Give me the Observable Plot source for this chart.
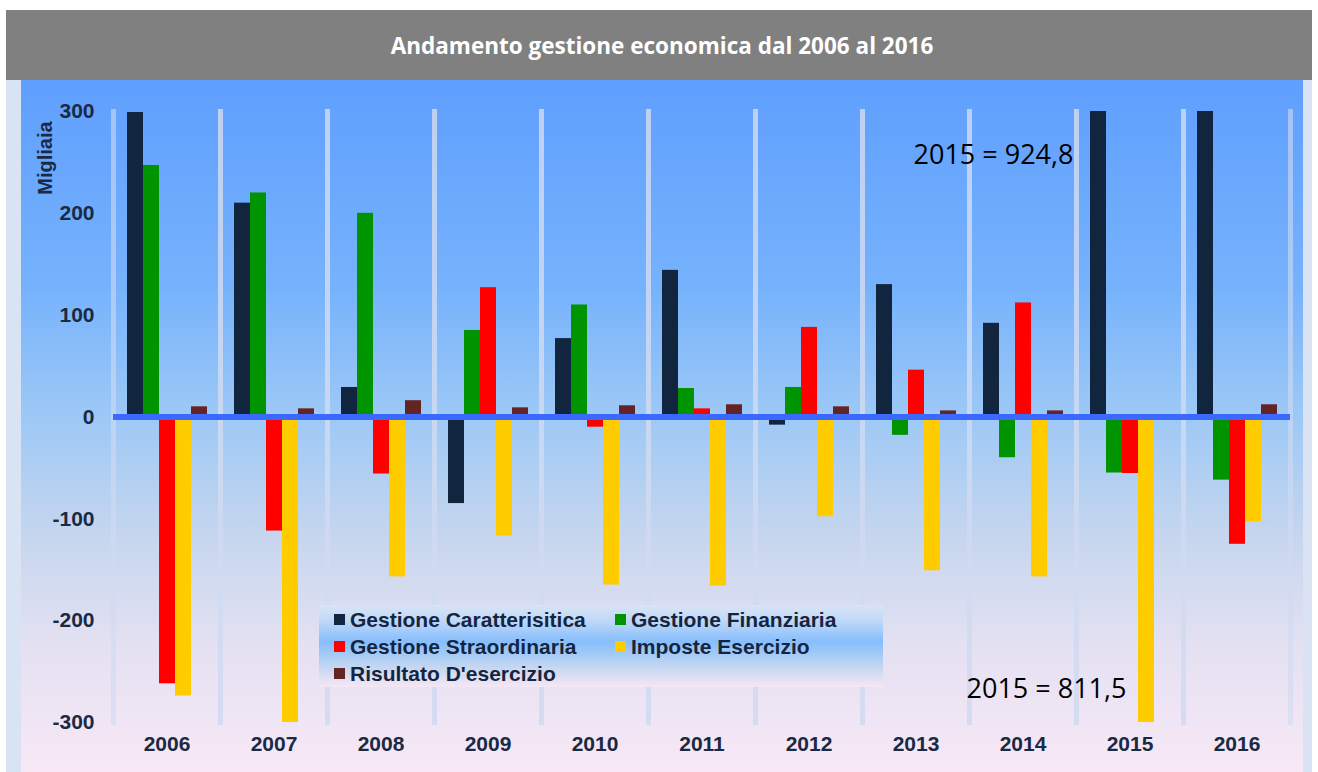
<!DOCTYPE html>
<html>
<head>
<meta charset="utf-8">
<script src="https://cdn.jsdelivr.net/npm/d3@7"></script>
<script src="https://cdn.jsdelivr.net/npm/@observablehq/plot@0.6"></script>
<style>
  html, body { margin: 0; padding: 0; background: #ffffff; }
  body { width: 1318px; height: 772px; position: relative; overflow: hidden; }
  #title {
    position: absolute; left: 6px; top: 10px; width: 1306px; height: 70px;
    background: #808080; color: #ffffff;
    font-family: "Open Sans", "Liberation Sans", sans-serif; font-weight: bold; font-size: 22.5px;
    display: flex; align-items: center; justify-content: center; box-sizing: border-box; padding-left: 6px;
  }
  #frame {
    position: absolute; left: 6px; top: 80px; width: 1306px; height: 692px;
    background: #dae3f3;
  }
  #panel {
    position: absolute; left: 21px; top: 80px; width: 1282px; height: 692px;
    background: linear-gradient(to bottom, #5f9ffe 0%, #76b2fc 30%, #9cc8f6 48%, #c6d6ee 66%, #e4e1f2 82%, #f8e8f6 100%);
  }
  #chart { position: absolute; left: 21px; top: 80px; }
  #legend {
    position: absolute; left: 319px; top: 605px; width: 564px; height: 82px;
    background: linear-gradient(to bottom, #d9e4f5 0%, #c2d9f8 18%, #86befc 45%, #c3d6f1 75%, #f5e7f5 100%);
    font-family: "Liberation Sans", Arial, sans-serif; font-weight: bold; font-size: 21px; color: #14263f;
    display: grid; grid-template-columns: 281px 260px; grid-auto-rows: 27px;
    padding: 1px 0 0 15px; box-sizing: border-box;
  }
  .item { display: flex; align-items: center; white-space: nowrap; }
  .sw { width: 11px; height: 11px; margin-right: 5px; flex: none; }
</style>
</head>
<body>
<div id="title"></div>
<div id="frame"></div>
<div id="panel"></div>
<div id="chart"></div>
<div id="legend"></div>
<script>
const titleText = "Andamento gestione economica dal 2006 al 2016";
const yAxisLabel = "Migliaia";
const years = ["2006", "2007", "2008", "2009", "2010", "2011", "2012", "2013", "2014", "2015", "2016"];
const series = ["Gestione Caratterisitica", "Gestione Finanziaria", "Gestione Straordinaria", "Imposte Esercizio", "Risultato D'esercizio"];
const colors = ["#12253f", "#009500", "#ff0000", "#ffcc00", "#632423"];

// values in thousands (Migliaia)
const caratteristica = [299, 210, 29, -85, 77, 144, -8, 130, 92, 924.8, 302];
const finanziaria    = [247, 220, 200, 85, 110, 28, 29, -18, -40, -55, -62];
const straordinaria  = [-262, -112, -56, 127, -10, 8, 88, 46, 112, -55.5, -125];
const imposte        = [-274, -310, -157, -117, -165, -166, -98, -151, -157, -811.5, -103];
const risultato      = [10, 8, 16, 9, 11, 12, 10, 6, 6, 2, 12];

const yTicks = [-300, -200, -100, 0, 100, 200, 300];
const yDomain = [-300, 300];

const annotations = [
  {fx: "2014", y: 257, text: "2015 = 924,8", anchor: "right"},
  {fx: "2015", y: -267, text: "2015 = 811,5", anchor: "left"}
];

document.getElementById("title").textContent = titleText;

const valuesBySeries = [caratteristica, finanziaria, straordinaria, imposte, risultato];
const data = years.flatMap((yr, i) => series.map((s, j) => ({year: yr, series: s, value: valuesBySeries[j][i]})));

const annStyle = {fill: "#000", fontWeight: "normal", fontSize: 27, fontFamily: "Open Sans, sans-serif"};

const chart = Plot.plot({
  width: 1282,
  height: 692,
  marginLeft: 91,
  marginRight: 13,
  marginTop: 31,
  marginBottom: 50,
  style: {background: "transparent", fontFamily: "Liberation Sans, Arial, sans-serif", fontSize: "21px", fontWeight: "bold", color: "#1a2a44", overflow: "visible"},
  fx: {domain: years, padding: 0, label: null, axis: "bottom", tickSize: 0, tickPadding: 14},
  x: {domain: series, paddingInner: 0, paddingOuter: 0.74, axis: null},
  y: {domain: yDomain, ticks: yTicks, tickSize: 0, tickPadding: 19, tickFormat: d => String(d), label: null},
  color: {domain: series, range: colors},
  marks: [
    Plot.frame({anchor: "left", stroke: "#d0dbf2", strokeOpacity: 0.6, strokeWidth: 5}),
    Plot.frame({anchor: "right", stroke: "#d0dbf2", strokeOpacity: 0.6, strokeWidth: 5}),
    Plot.barY(data, {fx: "year", x: "series", y: "value", fill: "series", clip: true}),
    Plot.ruleY([0], {stroke: "#3b68ff", strokeWidth: 6}),
    Plot.text(annotations.filter(d => d.anchor === "right"), {fx: "fx", y: "y", text: "text", frameAnchor: "right", textAnchor: "end", dx: -3, ...annStyle}),
    Plot.text(annotations.filter(d => d.anchor === "left"), {fx: "fx", y: "y", text: "text", frameAnchor: "left", textAnchor: "middle", dx: -30, ...annStyle})
  ]
});
document.getElementById("chart").appendChild(chart);

// y axis title
const svg = d3.select(chart);
svg.append("text")
  .attr("transform", "translate(24,78) rotate(-90)")
  .attr("text-anchor", "middle")
  .attr("dominant-baseline", "central")
  .attr("fill", "#1a2a44")
  .style("font-size", "20px")
  .style("font-weight", "bold")
  .text(yAxisLabel);

// legend
const legend = document.getElementById("legend");
series.forEach((s, i) => {
  const it = document.createElement("div");
  it.className = "item";
  const sw = document.createElement("span");
  sw.className = "sw";
  sw.style.background = colors[i];
  const tx = document.createElement("span");
  tx.textContent = s;
  it.appendChild(sw);
  it.appendChild(tx);
  legend.appendChild(it);
});
</script>
</body>
</html>
